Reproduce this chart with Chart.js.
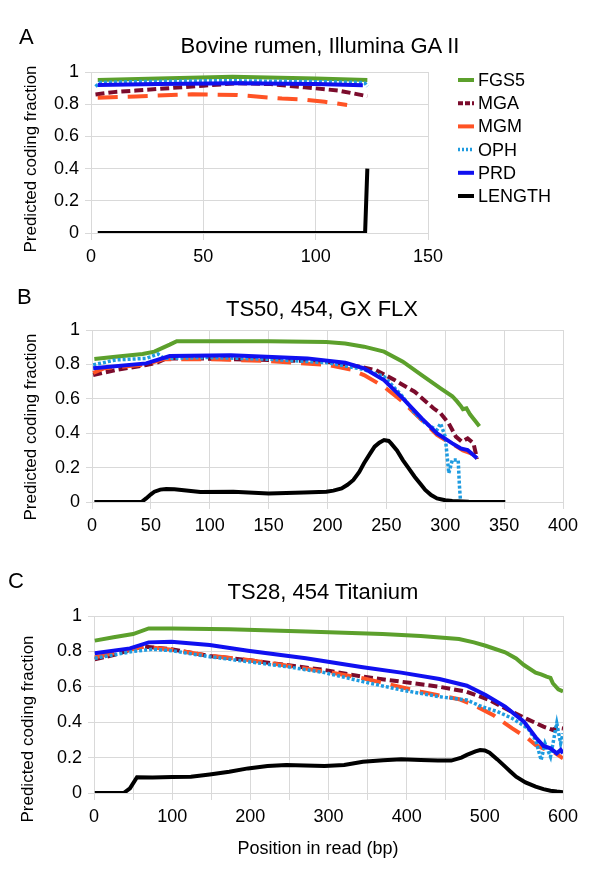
<!DOCTYPE html>
<html><head><meta charset="utf-8">
<script src="https://cdn.jsdelivr.net/npm/chart.js@4.4.1/dist/chart.umd.min.js"></script>
<style>
html,body{margin:0;padding:0;background:#fff;}
body{width:600px;height:896px;position:relative;overflow:hidden;font-family:"Liberation Sans",Arial,sans-serif;color:#000;}
canvas{position:absolute;left:0;}
.t{position:absolute;white-space:nowrap;line-height:1;}
.c{transform:translateX(-50%);}
.r{transform:translate(-50%,-50%) rotate(-90deg);}
</style></head><body>
<canvas id="cA" width="600" height="280" style="top:0px"></canvas>
<canvas id="cB" width="600" height="260" style="top:280px"></canvas>
<canvas id="cC" width="600" height="356" style="top:540px"></canvas>

<div class="t" style="left:19px;top:26px;font-size:22px">A</div>
<div class="t c" style="left:320px;top:35px;font-size:22px">Bovine rumen, Illumina GA II</div>
<div class="t r" style="left:30px;top:159px;font-size:17px">Predicted coding fraction</div>

<div class="t" style="left:17px;top:286px;font-size:22px">B</div>
<div class="t c" style="left:322px;top:298px;font-size:22px">TS50, 454, GX FLX</div>
<div class="t r" style="left:30px;top:427px;font-size:17px">Predicted coding fraction</div>

<div class="t" style="left:8px;top:570px;font-size:22px">C</div>
<div class="t c" style="left:323px;top:581px;font-size:22px">TS28, 454 Titanium</div>
<div class="t r" style="left:27px;top:729px;font-size:17px">Predicted coding fraction</div>
<div class="t c" style="left:318px;top:839px;font-size:18px">Position in read (bp)</div>

<script>
// ---------- series names ----------
const seriesNames = ['FGS5', 'MGA', 'MGM', 'OPH', 'PRD', 'LENGTH'];

// ---------- Panel A: Bovine rumen, Illumina GA II ----------
const aFGS5x = [3, 30, 63, 100, 123];
const aFGS5y = [0.95, 0.96, 0.97, 0.96, 0.95];
const aMGAx = [2, 10, 20, 35, 50, 65, 80, 95, 110, 123];
const aMGAy = [0.86, 0.875, 0.885, 0.9, 0.915, 0.93, 0.925, 0.905, 0.885, 0.85];
const aMGMx = [3, 20, 45, 65, 85, 95, 104, 114];
const aMGMy = [0.84, 0.848, 0.862, 0.857, 0.835, 0.828, 0.815, 0.795];
const aOPHx = [2, 4, 20, 50, 65, 100, 120, 122, 123];
const aOPHy = [0.91, 0.935, 0.94, 0.945, 0.945, 0.94, 0.935, 0.93, 0.91];
const aPRDx = [3, 30, 65, 100, 121];
const aPRDy = [0.92, 0.925, 0.93, 0.925, 0.918];
const aLENx = [3, 122, 123];
const aLENy = [0, 0, 0.4];

// ---------- Panel B: TS50, 454, GX FLX ----------
const bFGS5x = [2, 20, 43, 53, 59, 66, 72, 100, 150, 199, 215, 231, 248, 264, 280, 296, 306, 310, 313, 315, 318, 321, 325, 329];
const bFGS5y = [0.831, 0.845, 0.86, 0.874, 0.893, 0.915, 0.935, 0.935, 0.934, 0.93, 0.922, 0.903, 0.874, 0.816, 0.738, 0.661, 0.615, 0.585, 0.56, 0.54, 0.545, 0.51, 0.475, 0.44];
const bMGAx = [1, 20, 46, 55, 63, 85, 150, 199, 225, 241, 257, 274, 290, 296, 303, 309, 314, 319, 324, 327];
const bMGAy = [0.738, 0.767, 0.797, 0.81, 0.835, 0.835, 0.826, 0.816, 0.79, 0.767, 0.709, 0.641, 0.545, 0.516, 0.457, 0.38, 0.351, 0.37, 0.341, 0.25];
const bMGMx = [1, 10, 46, 60, 100, 150, 200, 220, 231, 248, 264, 280, 293, 300, 308, 315, 322, 326];
const bMGMy = [0.75, 0.777, 0.8, 0.83, 0.83, 0.82, 0.797, 0.77, 0.738, 0.67, 0.583, 0.477, 0.39, 0.36, 0.33, 0.3, 0.283, 0.234];
const bOPHx = [1, 20, 46, 56, 61, 100, 150, 200, 231, 248, 264, 274, 283, 293, 296, 300, 303, 306, 311, 312, 313, 327];
const bOPHy = [0.797, 0.826, 0.835, 0.86, 0.835, 0.84, 0.83, 0.81, 0.77, 0.729, 0.612, 0.516, 0.457, 0.419, 0.457, 0.38, 0.167, 0.244, 0.244, 0.1, 0, 0];
const bPRDx = [1, 46, 66, 118, 183, 215, 231, 248, 264, 280, 293, 306, 313, 319, 327];
const bPRDy = [0.777, 0.806, 0.849, 0.853, 0.835, 0.81, 0.777, 0.709, 0.603, 0.486, 0.399, 0.341, 0.312, 0.302, 0.254];
const bLENx = [2, 42, 46, 50, 53, 58, 63, 70, 76, 92, 120, 150, 180, 199, 205, 212, 217, 222, 227, 231, 236, 240, 244, 248, 252, 254, 259, 264, 269, 274, 279, 283, 288, 293, 300, 306, 320, 351];
const bLENy = [0, 0, 0.021, 0.045, 0.06, 0.072, 0.076, 0.074, 0.07, 0.058, 0.06, 0.05, 0.055, 0.06, 0.066, 0.079, 0.1, 0.128, 0.175, 0.225, 0.28, 0.322, 0.345, 0.36, 0.355, 0.341, 0.3, 0.244, 0.195, 0.147, 0.105, 0.07, 0.04, 0.021, 0.01, 0.006, 0.002, 0];

// ---------- Panel C: TS28, 454 Titanium ----------
const cFGS5x = [1, 25, 50, 70, 100, 173, 271, 369, 418, 467, 486, 501, 526, 540, 550, 565, 572, 579, 584, 587, 594, 600];
const cFGS5y = [0.861, 0.88, 0.898, 0.93, 0.93, 0.925, 0.912, 0.898, 0.887, 0.87, 0.851, 0.832, 0.795, 0.76, 0.723, 0.68, 0.67, 0.657, 0.65, 0.62, 0.586, 0.573];
const cMGAx = [1, 26, 50, 65, 99, 148, 197, 246, 295, 344, 393, 442, 477, 506, 530, 555, 575, 587, 592, 600];
const cMGAy = [0.755, 0.78, 0.814, 0.827, 0.812, 0.774, 0.751, 0.723, 0.695, 0.657, 0.629, 0.6, 0.572, 0.525, 0.469, 0.416, 0.375, 0.356, 0.37, 0.365];
const cMGMx = [1, 50, 65, 99, 148, 197, 246, 295, 344, 369, 418, 467, 486, 511, 535, 555, 565, 579, 589, 600];
const cMGMy = [0.766, 0.814, 0.827, 0.81, 0.776, 0.752, 0.72, 0.686, 0.648, 0.623, 0.572, 0.53, 0.497, 0.44, 0.365, 0.309, 0.271, 0.243, 0.228, 0.196];
const cOPHx = [1, 50, 75, 99, 148, 197, 246, 295, 344, 393, 442, 477, 496, 516, 535, 555, 565, 572, 577, 584, 592, 597, 600];
const cOPHy = [0.761, 0.8, 0.812, 0.804, 0.77, 0.742, 0.714, 0.68, 0.629, 0.582, 0.544, 0.525, 0.488, 0.46, 0.422, 0.365, 0.3, 0.186, 0.28, 0.205, 0.394, 0.28, 0.337];
const cPRDx = [1, 46, 70, 99, 148, 197, 271, 344, 393, 442, 477, 501, 526, 550, 565, 575, 584, 592, 597, 600];
const cPRDy = [0.789, 0.817, 0.851, 0.855, 0.836, 0.804, 0.761, 0.71, 0.68, 0.644, 0.606, 0.554, 0.488, 0.403, 0.315, 0.266, 0.252, 0.224, 0.243, 0.224];
const cLENx = [1, 38, 46, 55, 75, 100, 124, 148, 173, 197, 222, 246, 270, 295, 320, 344, 370, 393, 418, 440, 457, 470, 477, 488, 494, 500, 506, 516, 526, 533, 540, 552, 565, 575, 584, 592, 600];
const cLENy = [0, 0, 0.026, 0.089, 0.087, 0.09, 0.092, 0.105, 0.12, 0.139, 0.153, 0.158, 0.155, 0.153, 0.158, 0.177, 0.185, 0.19, 0.186, 0.183, 0.183, 0.2, 0.215, 0.235, 0.243, 0.24, 0.228, 0.19, 0.149, 0.12, 0.092, 0.06, 0.036, 0.022, 0.013, 0.008, 0.004];

// ---------- tick settings ----------
const yTickStep = 0.2;
const aXmax = 150, bXmax = 400, cXmax = 600;
const xTickStep = 50;

// ---------- styles ----------
const STYLE = {
  FGS5:   {color: '#5CA02C', width: 4,   dash: [],      legendDash: [],     order: 6},
  MGA:    {color: '#7B0B2C', width: 4,   dash: [9, 4],  legendDash: [5, 2], order: 5},
  MGM:    {color: '#FF5325', width: 4,   dash: [20, 10],legendDash: [],     order: 4},
  OPH:    {color: '#1E9BE0', width: 3.5, dash: [3, 2],  legendDash: [2, 2], order: 3},
  PRD:    {color: '#1010F0', width: 4,   dash: [],      legendDash: [],     order: 2},
  LENGTH: {color: '#000000', width: 4,   dash: [],      legendDash: [],     order: 1}
};

function pts(xs, ys) { return xs.map((x, i) => ({x: x, y: ys[i]})); }
function makeSets(list) {
  return list.map(([name, xs, ys]) => ({
    label: name,
    data: pts(xs, ys),
    borderColor: STYLE[name].color,
    backgroundColor: STYLE[name].color,
    borderWidth: STYLE[name].width,
    borderDash: STYLE[name].dash,
    order: STYLE[name].order,
    pointRadius: 0,
    pointHoverRadius: 0,
    tension: 0,
    fill: false
  }));
}

const GRID = '#D9D9D9';
const FONT = {family: '"Liberation Sans", Arial, sans-serif', size: 18};

function makeOptions(xmax, yWidth, xHeight, pad, xCallback) {
  return {
    responsive: false,
    animation: false,
    events: [],
    layout: {padding: pad},
    plugins: {legend: {display: false}, title: {display: false}, tooltip: {enabled: false}},
    scales: {
      x: {
        type: 'linear', min: 0, max: xmax,
        grid: {color: GRID, lineWidth: 1, drawTicks: true, tickLength: 7, tickColor: GRID},
        border: {color: GRID},
        ticks: {stepSize: xTickStep, autoSkip: false, maxRotation: 0, color: '#000', font: FONT, padding: 6,
                callback: xCallback || (v => v)},
        afterFit: s => { s.height = xHeight; }
      },
      y: {
        type: 'linear', min: 0, max: 1,
        grid: {color: GRID, lineWidth: 1, drawTicks: true, tickLength: 6, tickColor: GRID},
        border: {color: GRID},
        ticks: {stepSize: yTickStep, color: '#000', font: FONT, padding: 6,
                callback: v => String(Math.round(v * 10) / 10)},
        afterFit: s => { s.width = yWidth; }
      }
    }
  };
}

// custom legend for panel A
const legendPlugin = {
  id: 'sideLegend',
  afterDraw(chart) {
    const ctx = chart.ctx;
    const x0 = 458, x1 = 474, tx = 478, y0 = 80, dy = 23.2;
    ctx.save();
    ctx.font = '18px "Liberation Sans", Arial, sans-serif';
    ctx.textBaseline = 'middle';
    ctx.textAlign = 'left';
    chart.data.datasets.forEach((ds, i) => {
      const st = STYLE[ds.label];
      const y = y0 + i * dy;
      ctx.strokeStyle = ds.borderColor;
      ctx.lineWidth = ds.borderWidth;
      ctx.setLineDash(st.legendDash);
      ctx.beginPath(); ctx.moveTo(x0, y); ctx.lineTo(x1, y); ctx.stroke();
      ctx.setLineDash([]);
      ctx.fillStyle = '#000';
      ctx.fillText(ds.label, tx, y + 1);
    });
    ctx.restore();
  }
};

new Chart(document.getElementById('cA'), {
  type: 'line',
  data: {datasets: makeSets([
    ['FGS5', aFGS5x, aFGS5y], ['MGA', aMGAx, aMGAy], ['MGM', aMGMx, aMGMy],
    ['OPH', aOPHx, aOPHy], ['PRD', aPRDx, aPRDy], ['LENGTH', aLENx, aLENy]])},
  options: makeOptions(aXmax, 91, 47, {left: 0, right: 172, top: 72, bottom: 0}),
  plugins: [legendPlugin]
});

new Chart(document.getElementById('cB'), {
  type: 'line',
  data: {datasets: makeSets([
    ['FGS5', bFGS5x, bFGS5y], ['MGA', bMGAx, bMGAy], ['MGM', bMGMx, bMGMy],
    ['OPH', bOPHx, bOPHy], ['PRD', bPRDx, bPRDy], ['LENGTH', bLENx, bLENy]])},
  options: makeOptions(bXmax, 92, 38, {left: 0, right: 37, top: 50, bottom: 0})
});

new Chart(document.getElementById('cC'), {
  type: 'line',
  data: {datasets: makeSets([
    ['FGS5', cFGS5x, cFGS5y], ['MGA', cMGAx, cMGAy], ['MGM', cMGMx, cMGMy],
    ['OPH', cOPHx, cOPHy], ['PRD', cPRDx, cPRDy], ['LENGTH', cLENx, cLENy]])},
  options: makeOptions(cXmax, 94, 103, {left: 0, right: 37, top: 76, bottom: 0},
    v => (v % 100 === 0 ? v : ''))
});
</script>
</body></html>
